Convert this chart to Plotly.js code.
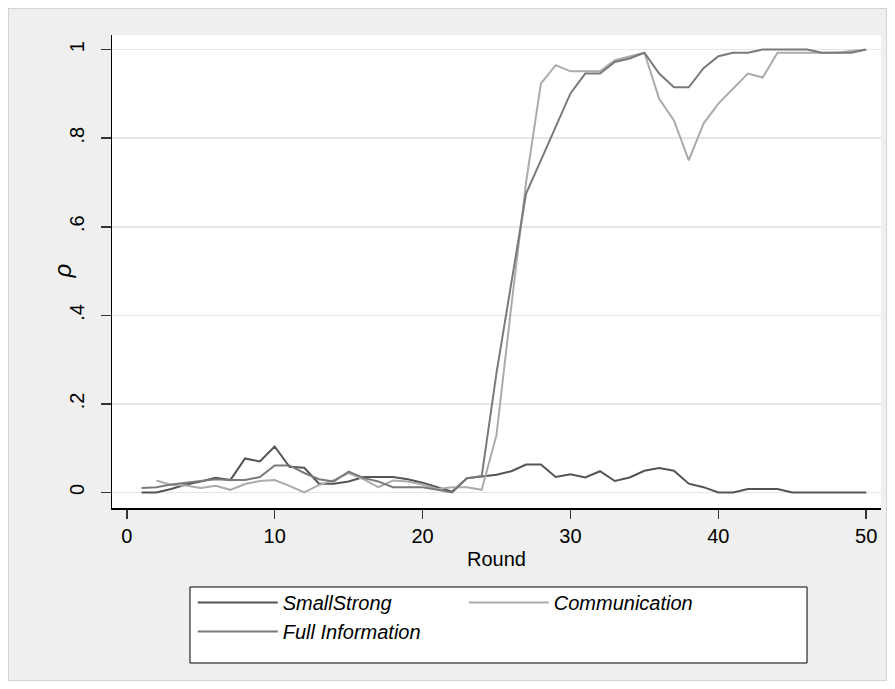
<!DOCTYPE html>
<html>
<head>
<meta charset="utf-8">
<script src="https://cdn.plot.ly/plotly-3.0.1.min.js"></script>
<style>
  html, body { margin: 0; padding: 0; background: #ffffff; }
  #frame {
    position: absolute; left: 8px; top: 8px;
    width: 879px; height: 673px;
    box-sizing: border-box;
    border: 1px solid #d4d4d4;
    background: #efefef;
  }
  #chart { width: 877px; height: 671px; }
</style>
</head>
<body>
<div id="frame"><div id="chart"></div></div>
<script>
// Rounds of the experiment
const rounds = [1,2,3,4,5,6,7,8,9,10,11,12,13,14,15,16,17,18,19,20,
                21,22,23,24,25,26,27,28,29,30,31,32,33,34,35,36,37,38,39,40,
                41,42,43,44,45,46,47,48,49,50];

// Share of groups (rho) per round, by treatment
const smallStrong = [0.000,0.000,0.008,0.018,0.025,0.033,0.028,0.077,0.070,0.104,
                     0.058,0.056,0.020,0.020,0.025,0.035,0.035,0.035,0.030,0.022,
                     0.012,0.002,0.032,0.036,0.040,0.048,0.063,0.063,0.035,0.041,
                     0.034,0.048,0.026,0.034,0.049,0.055,0.049,0.020,0.012,0.000,
                     0.000,0.008,0.008,0.008,0.000,0.000,0.000,0.000,0.000,0.000];

const communication = [null,0.027,0.017,0.016,0.010,0.015,0.006,0.019,0.026,0.028,
                       0.015,0.000,0.017,0.028,0.044,0.030,0.012,0.027,0.025,0.018,
                       0.008,0.012,0.012,0.006,0.130,0.420,0.700,0.923,0.965,0.951,
                       0.951,0.951,0.976,0.985,0.993,0.889,0.840,0.750,0.833,0.878,
                       0.911,0.946,0.937,0.993,0.993,0.993,0.993,0.993,0.997,1.000];

const fullInformation = [0.010,0.012,0.018,0.022,0.027,0.030,0.028,0.028,0.035,0.061,
                         0.061,0.044,0.030,0.025,0.047,0.033,0.025,0.012,0.012,0.012,
                         0.006,0.000,0.032,0.037,0.270,0.470,0.675,0.750,0.826,0.901,
                         0.946,0.946,0.972,0.980,0.993,0.946,0.915,0.915,0.958,0.985,
                         0.993,0.993,1.000,1.000,1.000,1.000,0.993,0.993,0.993,1.000];

const seriesNames = ['SmallStrong', 'Communication', 'Full Information'];
const xTickVals = [0, 10, 20, 30, 40, 50];
const yTickVals = [0, 0.2, 0.4, 0.6, 0.8, 1];
const yTickText = ['0', '.2', '.4', '.6', '.8', '1'];

const FONT = 'Liberation Sans, Arial, Helvetica, sans-serif';

const traces = [
  { x: rounds, y: smallStrong, name: '<i>' + seriesNames[0] + '</i>', mode: 'lines',
    line: { color: '#545454', width: 2 } },
  { x: rounds, y: communication, name: '<i>' + seriesNames[1] + '</i>', mode: 'lines',
    line: { color: '#ababab', width: 2 } },
  { x: rounds, y: fullInformation, name: '<i>' + seriesNames[2] + '</i>', mode: 'lines',
    line: { color: '#7a7a7a', width: 2 } }
];

const layout = {
  width: 877, height: 671,
  paper_bgcolor: '#efefef',
  plot_bgcolor: '#ffffff',
  font: { family: FONT, size: 20, color: '#000000' },
  margin: { l: 103, r: 5, t: 26, b: 172, pad: 0 },
  showlegend: true,
  xaxis: {
    range: [-1.0, 51.0],
    tickvals: xTickVals,
    ticks: 'outside', ticklen: 9, tickwidth: 1.5, tickcolor: '#333333',
    showline: true, linecolor: '#000000', linewidth: 1.5,
    showgrid: false, zeroline: false,
    tickfont: { family: FONT, size: 20, color: '#000000' },
    title: { text: 'Round', font: { family: FONT, size: 20 }, standoff: 6 }
  },
  yaxis: {
    range: [-0.035, 1.033],
    tickvals: yTickVals, ticktext: yTickText,
    tickangle: -90,
    ticks: 'outside', ticklen: 10, tickwidth: 1.5, tickcolor: '#333333',
    ticklabelstandoff: 9,
    showline: true, linecolor: '#000000', linewidth: 1.5,
    showgrid: true, gridcolor: '#e6e6e6', gridwidth: 1.5,
    zeroline: false,
    tickfont: { family: FONT, size: 20, color: '#000000' }
  },
  // y-axis title, set just left of the rotated tick labels
  annotations: [{
    text: '<i>ρ</i>', xref: 'paper', yref: 'paper',
    x: -0.065, y: 0.5, xanchor: 'center', yanchor: 'middle',
    textangle: -90, showarrow: false,
    font: { family: FONT, size: 24, color: '#000000' }
  }],
  // white framed box behind the legend entries
  shapes: [{
    type: 'rect', xref: 'paper', yref: 'paper',
    x0: 0.1014, x1: 0.9038, y0: -0.167, y1: -0.3277,
    fillcolor: '#ffffff', line: { color: '#000000', width: 1 }, layer: 'below'
  }],
  legend: {
    orientation: 'h',
    x: 0.105, xanchor: 'left',
    y: -0.1585, yanchor: 'top',
    bgcolor: 'rgba(0,0,0,0)', borderwidth: 0,
    font: { family: FONT, size: 20, color: '#000000' },
    itemwidth: 80,
    entrywidth: 176,
    traceorder: 'normal'
  }
};

Plotly.newPlot('chart', traces, layout, { staticPlot: true, displayModeBar: false });
</script>
</body>
</html>
